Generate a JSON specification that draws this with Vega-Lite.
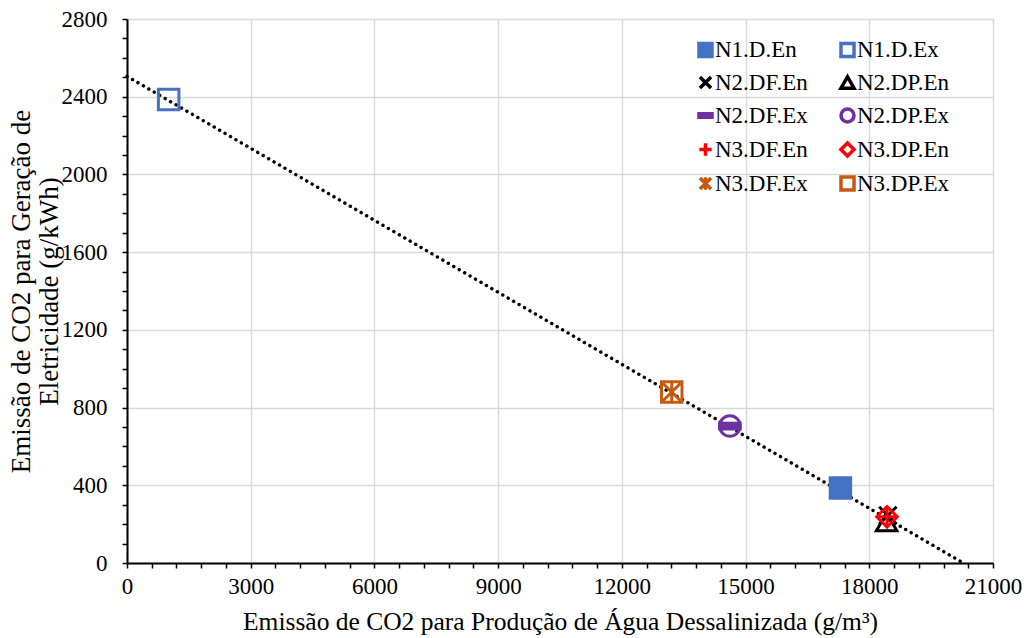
{
  "$schema": "https://vega.github.io/schema/vega-lite/v6.json",
  "autosize": "none",
  "width": 866,
  "height": 544,
  "padding": {"left": 127, "top": 19, "right": 31, "bottom": 75},
  "background": "white",
  "config": {
    "font": "Liberation Serif",
    "view": {"stroke": null},
    "axis": {
      "domainColor": "#000000",
      "domainWidth": 2,
      "tickColor": "#000000",
      "tickWidth": 1.5,
      "tickSize": 5,
      "gridColor": "#D9D9D9",
      "gridWidth": 1.5,
      "labelFont": "Liberation Serif",
      "labelFontSize": 23,
      "labelColor": "#000000",
      "labelOverlap": false,
      "titleFont": "Liberation Serif",
      "titleFontWeight": "normal",
      "titleColor": "#000000"
    },
    "legend": {
      "labelFont": "Liberation Serif",
      "labelFontSize": 23,
      "labelColor": "#000000"
    }
  },
  "datasets": {
    "pts": [
      {"s": "N1.D.En", "x": 17300, "y": 386},
      {"s": "N1.D.Ex", "x": 1010, "y": 2386},
      {"s": "N2.DF.En", "x": 18450, "y": 245},
      {"s": "N2.DP.En", "x": 18420, "y": 212},
      {"s": "N2.DF.Ex", "x": 14620, "y": 705},
      {"s": "N2.DP.Ex", "x": 14620, "y": 705},
      {"s": "N3.DF.En", "x": 18430, "y": 238},
      {"s": "N3.DP.En", "x": 18430, "y": 238},
      {"s": "N3.DF.Ex", "x": 13210, "y": 880},
      {"s": "N3.DP.Ex", "x": 13210, "y": 880}
    ],
    "trend": [
      {"x": 0, "y": 2505},
      {"x": 20280, "y": 0}
    ]
  },
  "encoding": {
    "x": {
      "field": "x", "type": "quantitative",
      "scale": {"domain": [0, 21000], "nice": false, "zero": false},
      "axis": {
        "title": "Emissão de CO2 para Produção de Água Dessalinizada (g/m³)",
        "titleFontSize": 25.5,
        "values": [0,600,1200,1800,2400,3000,3600,4200,4800,5400,6000,6600,7200,7800,8400,9000,9600,10200,10800,11400,12000,12600,13200,13800,14400,15000,15600,16200,16800,17400,18000,18600,19200,19800,20400,21000],
        "format": "d",
        "labelOverlap": false,
        "labelBound": false,
        "labelFlush": false,
        "labelExpr": "datum.value % 3000 === 0 ? datum.label : ''",
        "gridOpacity": {"condition": {"test": "datum.value % 3000 === 0", "value": 1}, "value": 0},
        "labelPadding": 7,
        "titlePadding": 11
      }
    },
    "y": {
      "field": "y", "type": "quantitative",
      "scale": {"domain": [0, 2800], "nice": false},
      "axis": {
        "title": ["Emissão de CO2 para Geração de", "Eletricidade (g/kWh)"],
        "titleFontSize": 27,
        "titleLineHeight": 28,
        "values": [0,100,200,300,400,500,600,700,800,900,1000,1100,1200,1300,1400,1500,1600,1700,1800,1900,2000,2100,2200,2300,2400,2500,2600,2700,2800],
        "format": "d",
        "labelOverlap": false,
        "labelFlush": false,
        "labelExpr": "datum.value % 400 === 0 ? datum.label : ''",
        "gridOpacity": {"condition": {"test": "datum.value % 400 === 0", "value": 1}, "value": 0},
        "labelPadding": 15,
        "titlePadding": -2
      }
    }
  },
  "layer": [
    {
      "data": {"name": "trend"},
      "mark": {"type": "line", "color": "#000000", "strokeWidth": 3.4, "strokeDash": [0.1, 6.2], "strokeCap": "round"}
    },
    {
      "data": {"name": "pts"},
      "mark": {"type": "point", "strokeWidth": 3, "size": 420, "opacity": 1},
      "encoding": {
        "shape": {
          "field": "s", "type": "nominal",
          "scale": {
            "domain": ["N1.D.En","N1.D.Ex","N2.DF.En","N2.DP.En","N2.DF.Ex","N2.DP.Ex","N3.DF.En","N3.DP.En","N3.DF.Ex","N3.DP.Ex"],
            "range": ["square","square","M-0.85,-0.85L0.85,0.85M0.85,-0.85L-0.85,0.85","triangle-up","M-1,-0.28L1,-0.28L1,0.28L-1,0.28Z","circle","M-0.95,0L0.95,0M0,-0.95L0,0.95","diamond","M-0.85,-0.85L0.85,0.85M0.85,-0.85L-0.85,0.85M0,-0.95L0,0.95","square"]
          },
          "legend": {
            "title": null, "orient": "none", "legendX": 567, "legendY": 19, "columns": 2, "direction": "horizontal",
            "symbolSize": 170, "symbolStrokeWidth": 3.5, "rowPadding": 5, "columnPadding": 25, "labelOffset": -2
          }
        },
        "stroke": {
          "field": "s", "type": "nominal",
          "scale": {
            "domain": ["N1.D.En","N1.D.Ex","N2.DF.En","N2.DP.En","N2.DF.Ex","N2.DP.Ex","N3.DF.En","N3.DP.En","N3.DF.Ex","N3.DP.Ex"],
            "range": ["#4472C4","#4472C4","#000000","#000000","#7030A0","#7030A0","#FF0000","#FF0000","#C55A11","#C55A11"]
          },
          "legend": {
            "title": null, "orient": "none", "legendX": 567, "legendY": 19, "columns": 2, "direction": "horizontal",
            "symbolSize": 170, "symbolStrokeWidth": 3.5, "rowPadding": 5, "columnPadding": 25, "labelOffset": -2
          }
        },
        "fill": {
          "field": "s", "type": "nominal",
          "scale": {
            "domain": ["N1.D.En","N1.D.Ex","N2.DF.En","N2.DP.En","N2.DF.Ex","N2.DP.Ex","N3.DF.En","N3.DP.En","N3.DF.Ex","N3.DP.Ex"],
            "range": ["#4472C4","transparent","transparent","transparent","#7030A0","transparent","transparent","transparent","transparent","transparent"]
          },
          "legend": {
            "title": null, "orient": "none", "legendX": 567, "legendY": 19, "columns": 2, "direction": "horizontal",
            "symbolSize": 170, "symbolStrokeWidth": 3.5, "rowPadding": 5, "columnPadding": 25, "labelOffset": -2
          }
        }
      }
    }
  ]
}
